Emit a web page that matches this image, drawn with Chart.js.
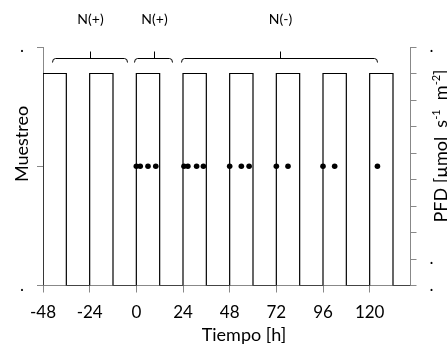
<!DOCTYPE html>
<html>
<head>
<meta charset="utf-8">
<script src="https://cdn.jsdelivr.net/npm/chart.js@4/dist/chart.umd.min.js"></script>
<style>
  html, body { margin: 0; padding: 0; background: #fff; }
  canvas { display: block; }
</style>
</head>
<body>
<canvas id="c" width="447" height="349"></canvas>
<script>
// Light/dark cycle (h): start of each light phase, its length, PFD in light and dark
const lightStarts = [-48, -24, 0, 24, 48, 72, 96, 120];
const lightLength = 12;
const pfdLight = 800;
const pfdDark = 0;
const timeStart = -48;
const timeEnd = 141;

// Sampling times (h)
const samplingTimes = [0, 2, 6, 10, 24.5, 26.5, 31, 34.5, 48, 54, 58, 72, 78, 96, 102, 124];
const samplingLevel = 1;

// Axis ticks and their labels
const timeTicks = [-48, -24, 0, 24, 48, 72, 96, 120];
const sampleTicks = [0, 1, 2];
const sampleTickLabels = ['.', '', '.'];
const pfdTicks = [0, 100, 200, 300, 400, 500, 600, 700, 800, 900];
const pfdTickLabels = ['.', '.', '', '', '', '', '', '', '', '.'];

// Treatment groups marked with braces above the plot
const groupLabels = ['N(+)', 'N(+)', 'N(-)'];
const groupFrom = [-43.5, -1, 23];
const groupTo = [-5, 18.5, 124];

// Square wave of the photoperiod
const wave = [];
lightStarts.forEach(s => {
  wave.push({ x: s, y: pfdDark }, { x: s, y: pfdLight },
            { x: s + lightLength, y: pfdLight }, { x: s + lightLength, y: pfdDark });
});
wave.push({ x: timeEnd, y: pfdDark });

const samples = samplingTimes.map(t => ({ x: t, y: samplingLevel }));

const FONT = 'Lato, "Open Sans", sans-serif';
const AXIS = '#888888';

const decorations = {
  id: 'decorations',
  afterDraw(chart) {
    const { ctx, chartArea, scales } = chart;
    const xs = scales.x;
    ctx.save();
    ctx.fillStyle = '#000';
    ctx.strokeStyle = '#000';
    ctx.lineWidth = 1;

    // braces and group labels
    const yb = Math.round(chartArea.top + 11) + 0.5;
    for (let i = 0; i < groupLabels.length; i++) {
      const x1 = Math.round(xs.getPixelForValue(groupFrom[i])) + 0.5;
      const x2 = Math.round(xs.getPixelForValue(groupTo[i])) + 0.5;
      const xm = Math.round((x1 + x2) / 2) + 0.5;
      ctx.beginPath();
      ctx.moveTo(x1, yb + 4);
      ctx.quadraticCurveTo(x1, yb, x1 + 3, yb);
      ctx.lineTo(x2 - 3, yb);
      ctx.quadraticCurveTo(x2, yb, x2, yb + 4);
      ctx.moveTo(xm, yb);
      ctx.lineTo(xm, yb - 7);
      ctx.stroke();

      ctx.font = '14px ' + FONT;
      ctx.textAlign = 'center';
      ctx.textBaseline = 'middle';
      ctx.fillText(groupLabels[i], xm, 19);
    }

    // axis titles
    ctx.font = '18px ' + FONT;
    ctx.textAlign = 'center';
    ctx.textBaseline = 'alphabetic';
    ctx.fillText('Tiempo [h]', 244, 341);

    ctx.save();
    ctx.translate(27.5, 144);
    ctx.rotate(-Math.PI / 2);
    ctx.fillText('Muestreo', 0, 0);
    ctx.restore();

    const parts = [
      ['PFD [\u00b5mol  s', false],
      ['-1', true],
      ['  m', false],
      ['-2', true],
      [']', false]
    ];
    const fontMain = '18px ' + FONT;
    const fontSup = '11px ' + FONT;
    let total = 0;
    parts.forEach(p => { ctx.font = p[1] ? fontSup : fontMain; total += ctx.measureText(p[0]).width; });
    ctx.save();
    ctx.translate(446.5, 146);
    ctx.rotate(-Math.PI / 2);
    ctx.textAlign = 'left';
    let x = -total / 2;
    parts.forEach(p => {
      ctx.font = p[1] ? fontSup : fontMain;
      ctx.fillText(p[0], x, p[1] ? -7 : 0);
      x += ctx.measureText(p[0]).width;
    });
    ctx.restore();

    ctx.restore();
  }
};

const tickFont = { family: FONT, size: 17 };

new Chart(document.getElementById('c'), {
  data: {
    datasets: [
      {
        type: 'line',
        label: 'PFD',
        data: wave,
        yAxisID: 'y2',
        borderColor: '#000',
        borderWidth: 1.2,
        pointRadius: 0,
        tension: 0,
        fill: false
      },
      {
        type: 'scatter',
        label: 'Muestreo',
        data: samples,
        yAxisID: 'y',
        backgroundColor: '#000',
        borderWidth: 0,
        pointRadius: 2.8
      }
    ]
  },
  options: {
    responsive: false,
    animation: false,
    layout: { padding: { top: 47, left: 0, right: 0, bottom: 0 } },
    plugins: { legend: { display: false }, tooltip: { enabled: false } },
    scales: {
      x: {
        type: 'linear',
        position: 'bottom',
        min: timeStart,
        max: timeEnd,
        afterBuildTicks: s => { s.ticks = timeTicks.map(v => ({ value: v })); },
        afterFit: s => { s.height = 63.5; },
        grid: { drawOnChartArea: false, drawTicks: true, tickLength: 7, color: AXIS, lineWidth: 1 },
        border: { color: AXIS, width: 1 },
        ticks: { font: tickFont, color: '#000', padding: 10, maxRotation: 0, autoSkip: false }
      },
      y: {
        type: 'linear',
        position: 'left',
        min: 0,
        max: 2,
        afterBuildTicks: s => { s.ticks = sampleTicks.map(v => ({ value: v })); },
        afterFit: s => { s.width = 43; },
        grid: { drawOnChartArea: false, drawTicks: true, tickLength: 6, color: AXIS, lineWidth: 1 },
        border: { color: AXIS, width: 1 },
        ticks: {
          font: tickFont, color: '#000', padding: 13,
          callback: (v, i) => sampleTickLabels[i]
        }
      },
      y2: {
        type: 'linear',
        position: 'right',
        min: 0,
        max: 900,
        afterBuildTicks: s => { s.ticks = pfdTicks.map(v => ({ value: v })); },
        afterFit: s => { s.width = 36.5; },
        grid: { drawOnChartArea: false, drawTicks: true, tickLength: 6, color: AXIS, lineWidth: 1 },
        border: { color: AXIS, width: 1 },
        ticks: {
          font: tickFont, color: '#000', padding: 13,
          callback: (v, i) => pfdTickLabels[i]
        }
      }
    }
  },
  plugins: [decorations]
});
</script>
</body>
</html>
